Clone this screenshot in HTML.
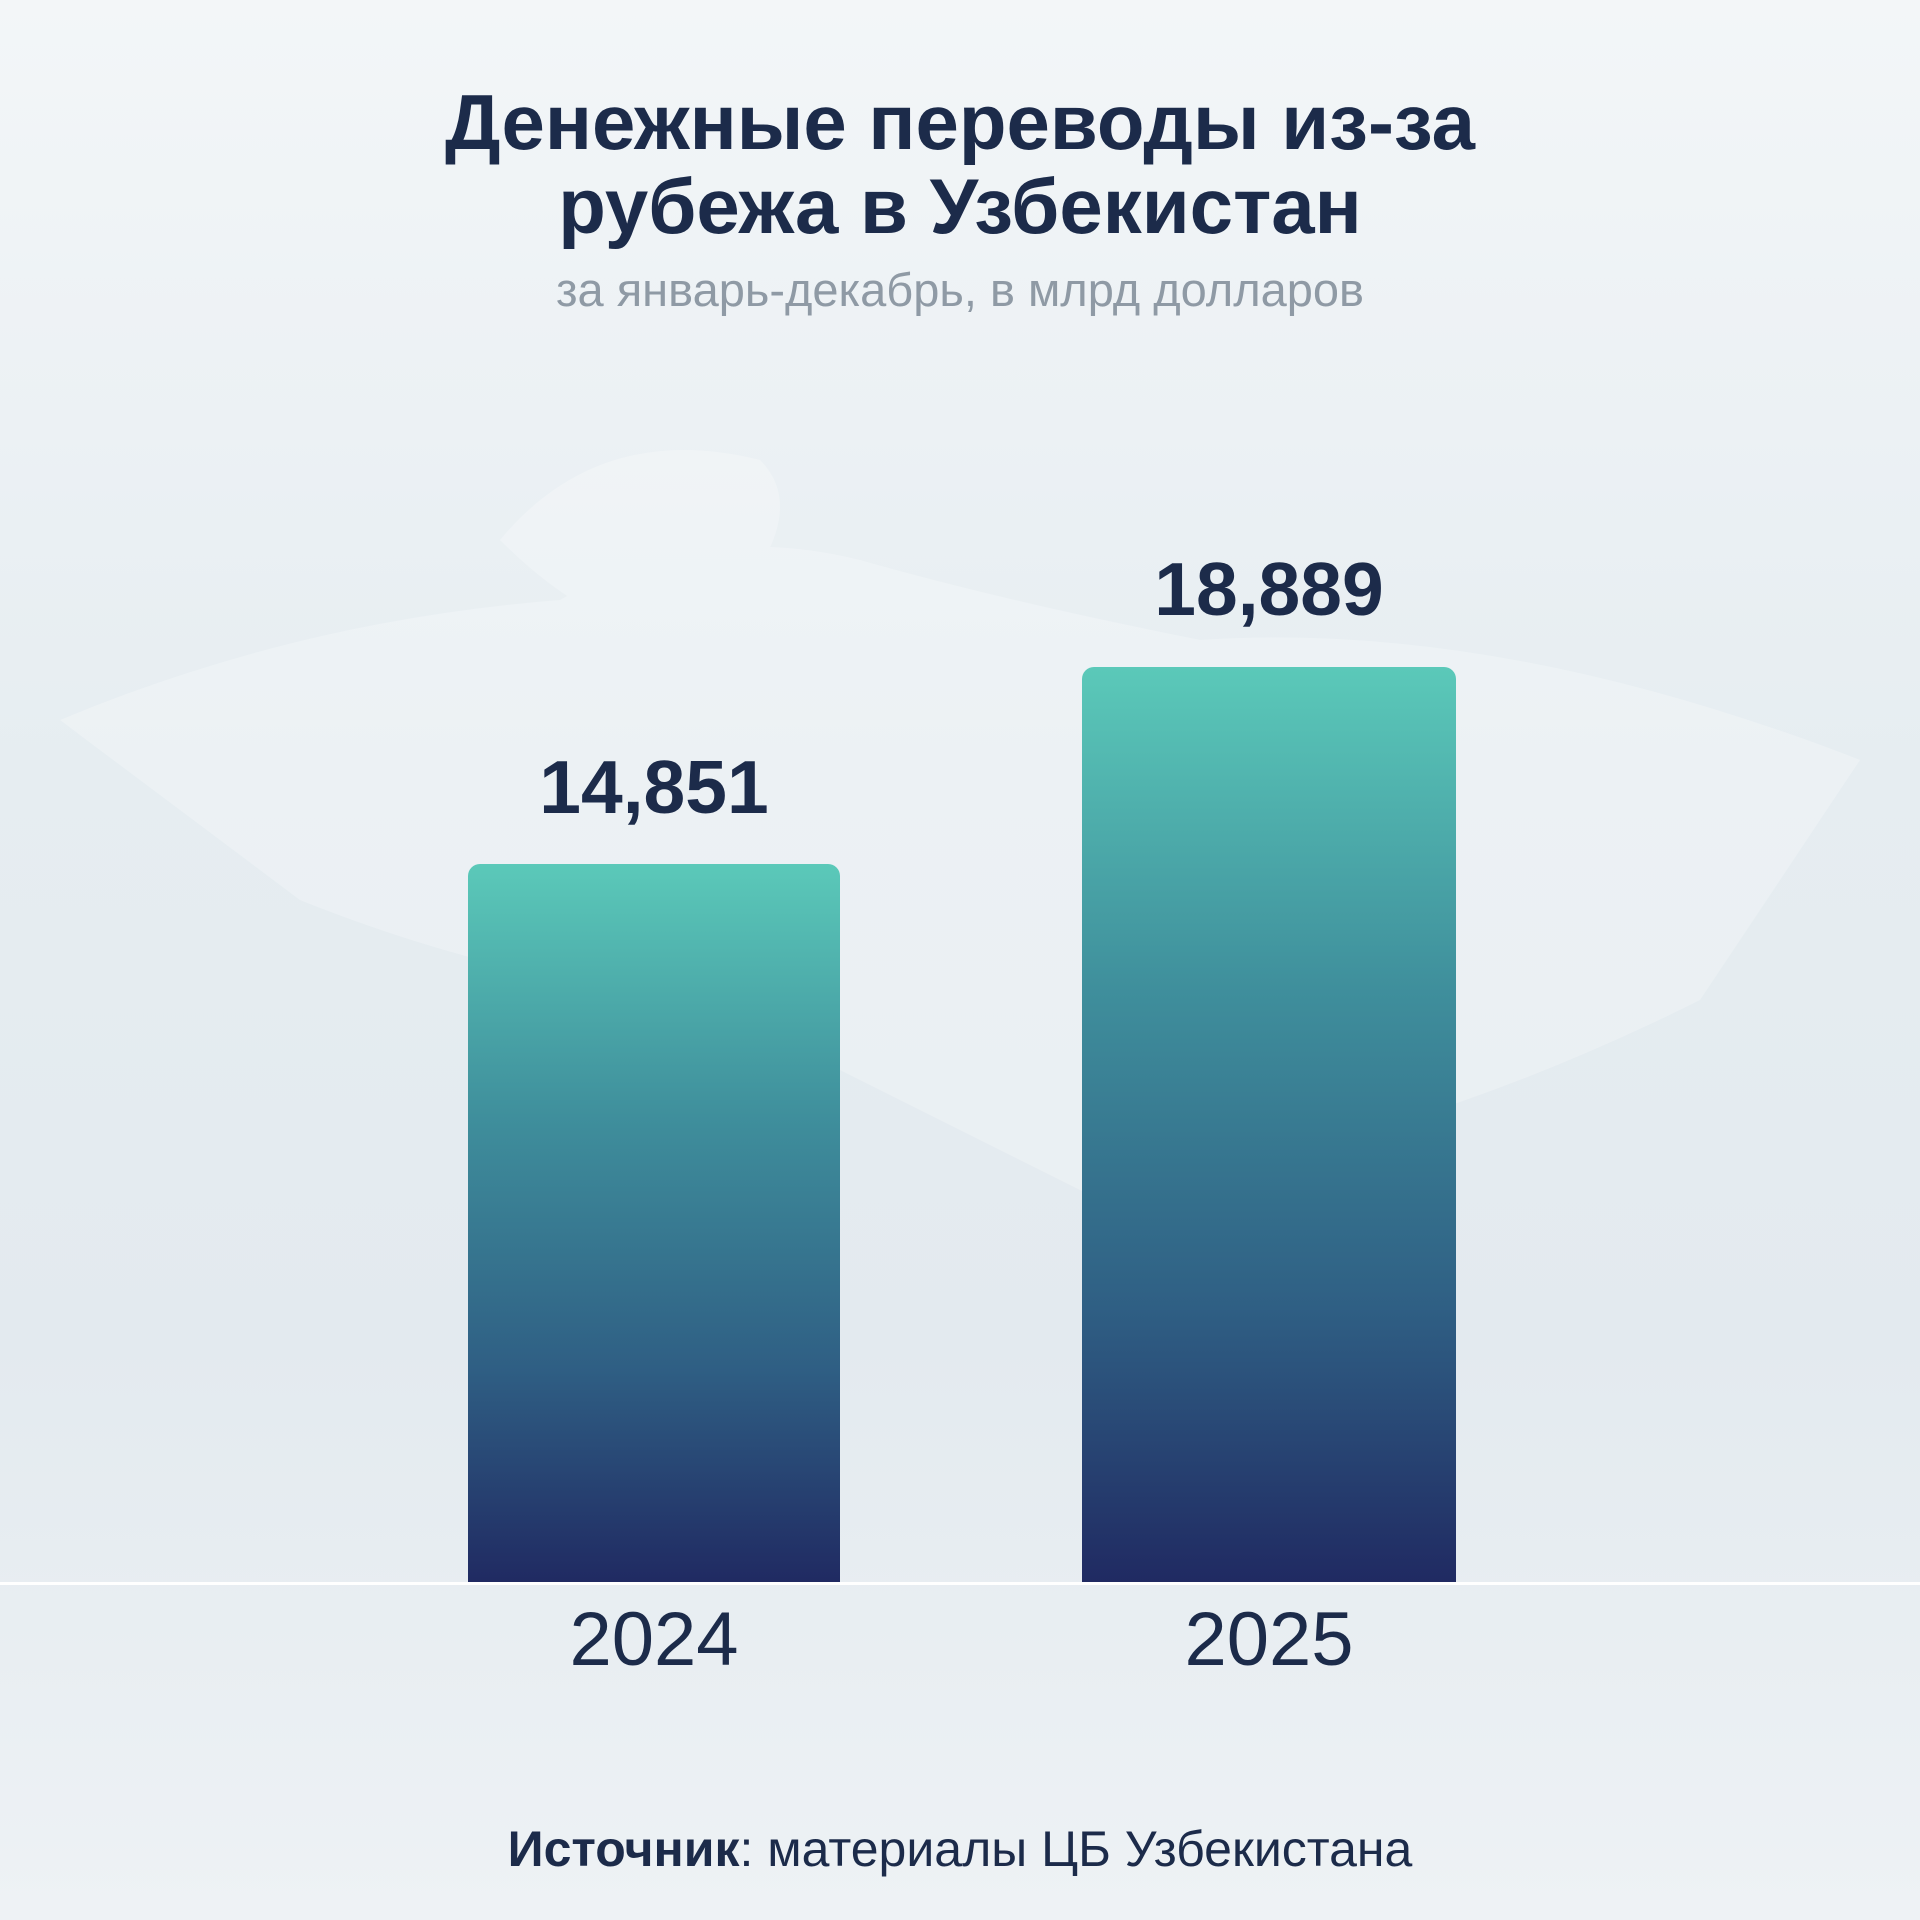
<!DOCTYPE html>
<html><head><meta charset="utf-8"><style>
html,body{margin:0;padding:0}
body{width:1920px;height:1920px;position:relative;overflow:hidden;font-family:"Liberation Sans",sans-serif;
background:linear-gradient(180deg,#f3f6f8 0%,#e6edf1 40%,#e3eaef 70%,#eef2f5 100%);}
.t{position:absolute;left:0;width:1920px;text-align:center;color:#1c2b4a}
.bar{position:absolute;border-radius:12px 12px 0 0;background:linear-gradient(180deg,#5bc9b9 0%,#3f8f9c 35%,#2f5f84 70%,#202a62 100%)}
</style></head><body>
<svg width="1920" height="1920" style="position:absolute;left:0;top:0" opacity="0.25">
<path d="M60 720 Q300 620 560 600 Q700 520 860 560 Q1000 600 1200 640 Q1500 620 1860 760 L1700 1000 Q1500 1100 1300 1150 L1100 1200 Q900 1100 700 1000 Q500 980 300 900 Z" fill="#ffffff"/>
<path d="M500 540 Q600 420 760 460 Q820 520 700 640 Q600 640 500 540Z" fill="#ffffff"/>
</svg>
<div class="t" style="top:80px;font-size:78px;font-weight:bold;line-height:84px">Денежные переводы из-за<br>рубежа в Узбекистан</div>
<div class="t" style="top:262px;font-size:47px;color:#8f9aa5">за январь-декабрь, в млрд долларов</div>
<div class="t" style="top:744px;left:468px;width:372px;font-size:75px;font-weight:bold">14,851</div>
<div class="t" style="top:546px;left:1082px;width:374px;font-size:75px;font-weight:bold">18,889</div>
<div class="bar" style="left:468px;top:864px;width:372px;height:719px"></div>
<div class="bar" style="left:1082px;top:667px;width:374px;height:916px"></div>
<div style="position:absolute;left:0;top:1582px;width:1920px;height:3px;background:#ffffff"></div>
<div class="t" style="top:1596px;left:468px;width:372px;font-size:76px">2024</div>
<div class="t" style="top:1596px;left:1082px;width:374px;font-size:76px">2025</div>
<div class="t" style="top:1820px;font-size:50px"><b>Источник</b>: материалы ЦБ Узбекистана</div>
</body></html>
